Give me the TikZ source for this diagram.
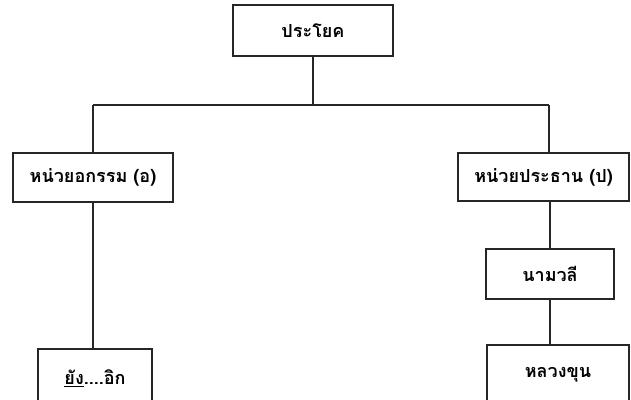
\documentclass[tikz,border=0pt]{standalone}
\usepackage{fontspec}
\newfontfamily\thaifont[Script=Thai]{Loma}
\begin{document}
\begin{tikzpicture}[x=1pt,y=1pt,
  box/.style={draw=black!85, line width=1.9pt, fill=white, inner sep=0pt,
    font=\thaifont\bfseries\fontsize{18}{20}\selectfont},
  link/.style={draw=black!85, line width=1.9pt}]
  \useasboundingbox (0,0) rectangle (631,399);
  \clip (0,0) rectangle (631,399);
  \fill[white] (0,0) rectangle (631,399);

  % sentence tree
  \node[box, minimum width=160pt, minimum height=51pt] (sent) at (313,368.5) {\raisebox{-2pt}{ประโยค}};
  \node[box, minimum width=160pt, minimum height=49pt] (obj) at (93,221.5) {หน่วยอกรรม (อ)};
  \node[box, minimum width=171pt, minimum height=48pt] (subj) at (543.5,222) {หน่วยประธาน (ป)};
  \node[box, minimum width=128pt, minimum height=50pt] (np) at (550,125) {นามวลี};
  \node[box, minimum width=142pt, minimum height=60pt] (noun) at (558,24) {หลวงขุน};
  \node[box, minimum width=114pt, minimum height=58pt] (adv) at (95,21)
    {\underline{ยัง}....อิก};

  \coordinate (jm) at (313,294);
  \coordinate (jl) at (93,294);
  \coordinate (jr) at (549,294);

  \draw[link] (sent.south) -- (jm);
  \draw[link] (jl) -- (jr);
  \draw[link] (jl) -- (obj.north);
  \draw[link] (jr) -- (jr |- subj.north);
  \draw[link] (obj.south) -- (obj.south |- adv.north);
  \draw[link] (np.north |- subj.south) -- (np.north);
  \draw[link] (np.south) -- (np.south |- noun.north);
\end{tikzpicture}
\end{document}
